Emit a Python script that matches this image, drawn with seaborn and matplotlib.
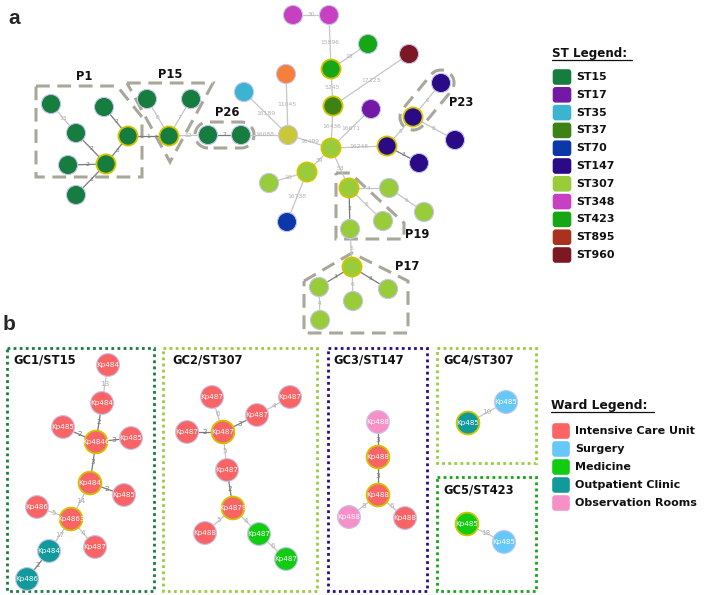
import numpy as np
import pandas as pd
import matplotlib
matplotlib.use("Agg")
import matplotlib.pyplot as plt
from matplotlib.patches import Polygon, FancyBboxPatch, Rectangle, Circle
import seaborn as sns

# ---------------- data: panel a (ST minimum spanning tree) ----------------
a_x = [51, 104, 76, 128, 68, 106, 76, 147, 191, 169, 208, 241, 288, 244, 286,
       293, 329, 331, 368, 333, 409, 331, 371, 387, 413, 441, 455, 419, 307,
       269, 287, 349, 389, 424, 383, 350, 352, 319, 353, 388, 320]
a_y = [104, 107, 133, 136, 165, 164, 195, 99, 99, 136, 135, 135, 135, 92, 74,
       15, 15, 69, 44, 106, 54, 148, 109, 146, 117, 83, 140, 163, 172,
       183, 222, 188, 188, 212, 221, 229, 267, 287, 301, 289, 320]
a_st = ["ST15"] * 12 + ["other_y", "ST35", "other_o", "ST348", "ST348",
        "ST423", "ST423", "ST37", "ST960", "ST307", "ST17", "ST147", "ST147",
        "ST147", "ST147", "ST147", "ST307", "ST307", "ST70"] + ["ST307"] * 10
a_ring = [0, 0, 0, 1, 0, 1, 0, 0, 0, 1, 0, 0, 0, 0, 0, 0, 0, 1, 0, 1, 0, 1,
          0, 1, 1, 0, 0, 0, 1, 0, 0, 1, 0, 0, 0, 0, 1, 0, 0, 0, 0]
a_src = [0, 1, 2, 4, 3, 5, 3, 9, 9, 9, 10, 11, 13, 14, 15, 16, 17, 17, 19, 19,
         22, 12, 21, 23, 23, 24, 24, 21, 28, 28, 21, 31, 32, 31, 31, 35, 36,
         36, 36, 37]
a_dst = [2, 3, 5, 5, 5, 6, 9, 7, 8, 10, 11, 12, 12, 12, 16, 17, 18, 19, 20, 21,
         21, 21, 23, 24, 27, 25, 26, 28, 29, 30, 31, 32, 33, 34, 35, 36, 37,
         38, 39, 40]
a_lab = ["13", "2", "2", "2", "3", "3", "1", "6", "7", "12", "2", "16088",
         "16189", "11045", "30", "15896", "18", "5245", "17223", "16436",
         "16671", "16499", "16248", "5", "3", "6", "8", "39", "10", "16738",
         "53", "4", "6", "5", "2", "5", "3", "6", "3", "4"]

# ---------------- data: panel b (genetic clusters, by ward) ----------------
b_x = [108, 102, 96, 63, 131, 90, 124, 71, 37, 95, 49, 27,
       212, 290, 257, 223, 187, 227, 233, 205, 259, 286,
       378, 378, 378, 349, 405,
       468, 506, 467, 504]
b_y = [365, 403, 442, 427, 438, 483, 495, 519, 507, 547, 551, 579,
       397, 397, 415, 432, 432, 470, 508, 533, 534, 559,
       422, 457, 495, 517, 518,
       423, 402, 524, 542]
b_ward = ["ICU"] * 10 + ["OPC", "OPC"] + ["ICU"] * 8 + ["MED", "MED"] + \
         ["OBS", "ICU", "ICU", "OBS", "ICU"] + ["OPC", "SUR", "MED", "SUR"]
b_ring = [0, 0, 1, 0, 0, 1, 0, 1, 0, 0, 0, 0,
          0, 0, 0, 1, 0, 0, 1, 0, 0, 0,
          0, 1, 1, 0, 0,
          1, 0, 1, 0]
b_name = ["Kp484", "Kp484", "Kp4846", "Kp485", "Kp485", "Kp484", "Kp485",
          "Kp4863", "Kp486", "Kp487", "Kp484", "Kp486",
          "Kp487", "Kp487", "Kp487", "Kp487", "Kp487", "Kp487", "Kp4879",
          "Kp488", "Kp487", "Kp487",
          "Kp488", "Kp488", "Kp488", "Kp488", "Kp488",
          "Kp485", "Kp485", "Kp485", "Kp485"]
b_src = [0, 1, 3, 2, 2, 5, 5, 8, 7, 7, 10,
         12, 14, 15, 16, 15, 17, 18, 18, 20,
         22, 23, 24, 24,
         27, 29]
b_dst = [1, 2, 2, 4, 5, 6, 7, 7, 9, 10, 11,
         15, 13, 14, 15, 17, 18, 19, 20, 21,
         23, 24, 25, 26,
         28, 30]
b_lab = ["13", "2", "2", "3", "3", "2", "14", "5", "4", "17", "2",
         "6", "4", "3", "2", "5", "2", "5", "4", "6",
         "3", "3", "8", "6",
         "10", "18"]

st_names = ["ST15", "ST17", "ST35", "ST37", "ST70", "ST147", "ST307",
            "ST348", "ST423", "ST895", "ST960"]
ward_names = ["Intensive Care Unit", "Surgery", "Medicine",
              "Outpatient Clinic", "Observation Rooms"]
ward_keys = ["ICU", "SUR", "MED", "OPC", "OBS"]
gc_titles = ["GC1/ST15", "GC2/ST307", "GC3/ST147", "GC4/ST307", "GC5/ST423"]

# ---------------- styles ----------------
st_colors = {"ST15": "#167d3f", "ST17": "#7418a6", "ST35": "#3cb3d0",
             "ST37": "#3e8115", "ST70": "#0c37a9", "ST147": "#2b0a86",
             "ST307": "#98cc3b", "ST348": "#c840c2", "ST423": "#16a616",
             "ST895": "#a9321f", "ST960": "#7c1724",
             "other_y": "#c9c83a", "other_o": "#f6803a"}
ward_colors = {"ICU": "#fa6464", "SUR": "#66c8f8", "MED": "#12cc12",
               "OPC": "#129a9a", "OBS": "#f890c8"}
box_colors = ["#167d3f", "#98cc3b", "#2b0a86", "#98cc3b", "#16a616"]
RING = "#d2c400"
SOFT = "#c4c4ec"
HULL = "#a8a79a"

sns.set_theme(style="white")
plt.rcParams["font.family"] = ["DejaVu Sans"]

fig = plt.figure(figsize=(7.08, 5.95), dpi=100)
ax = fig.add_axes([0, 0, 1, 1])
ax.set_xlim(0, 708)
ax.set_ylim(595, 0)
ax.axis("off")


def draw_edges(xs, ys, src, dst, labs, fs):
    for s, d, lab in zip(src, dst, labs):
        near = int(lab) <= 3
        col = "#7a7a7a" if near else "#c6c6c6"
        ax.plot([xs[s], xs[d]], [ys[s], ys[d]], color=col, lw=0.9, zorder=1)
        mx, my = (xs[s] + xs[d]) / 2, (ys[s] + ys[d]) / 2
        ax.text(mx, my, lab, fontsize=fs, color="#777777" if near else "#b0b0b0",
                ha="center", va="center", zorder=2)


def draw_nodes(df, hue, palette, size):
    for ring, sub in df.groupby("ring"):
        sns.scatterplot(data=sub, x="x", y="y", hue=hue, palette=palette,
                        s=size, edgecolor=RING if ring else SOFT,
                        linewidth=1.3 if ring else 0.8, legend=False,
                        ax=ax, zorder=3)


# panel a
draw_edges(a_x, a_y, a_src, a_dst, a_lab, 4.3)
df_a = pd.DataFrame({"x": a_x, "y": a_y, "st": a_st, "ring": a_ring})
draw_nodes(df_a, "st", st_colors, 190)

# panel b
draw_edges(b_x, b_y, b_src, b_dst, b_lab, 5.2)
df_b = pd.DataFrame({"x": b_x, "y": b_y, "ward": b_ward, "ring": b_ring})
draw_nodes(df_b, "ward", ward_colors, 270)
for x, y, name in zip(b_x, b_y, b_name):
    t = ax.text(x, y, name, fontsize=5.1, color="white", ha="center",
                va="center", zorder=4)
    clip = Circle((x, y), 11)
    clip.set_transform(ax.transData)
    t.set_clip_path(clip)


# cluster outlines for panel a
def stadium(p, q, r, n=30):
    p, q = np.array(p, float), np.array(q, float)
    ang = np.arctan2(q[1] - p[1], q[0] - p[0])
    t1 = np.linspace(ang + np.pi / 2, ang + 3 * np.pi / 2, n)
    t2 = np.linspace(ang - np.pi / 2, ang + np.pi / 2, n)
    pts = [p + r * np.array([np.cos(t), np.sin(t)]) for t in t1]
    pts += [q + r * np.array([np.cos(t), np.sin(t)]) for t in t2]
    return np.array(pts)


hulls = {
    "P1": [(36, 86), (117, 86), (142, 117), (142, 177), (36, 177)],
    "P15": [(127, 83), (213, 83), (170, 162)],
    "P19": [(336, 173), (350, 173), (404, 223), (404, 239), (336, 239)],
    "P17": [(304, 281), (352, 253), (408, 281), (408, 333), (304, 333)],
    "P26": stadium((208, 135), (241, 135), 13),
    "P23": stadium((413, 117), (441, 83), 13),
}
for pts in hulls.values():
    ax.add_patch(Polygon(pts, closed=True, fill=False, edgecolor=HULL,
                         lw=2.2, ls=(0, (4.5, 2.5)), zorder=0))

hull_labels = {"P1": (84, 76), "P15": (170, 75), "P26": (227, 113),
               "P23": (461, 103), "P19": (417, 234), "P17": (407, 267)}
for name, (x, y) in hull_labels.items():
    ax.text(x, y, name, fontsize=8.3, fontweight="bold", ha="center",
            va="center", color="#111111", zorder=5)

# panel letters
ax.text(8, 19, "a", fontsize=15, fontweight="bold", family="Liberation Sans",
        ha="left", va="center")
ax.text(3, 324, "b", fontsize=15, fontweight="bold", family="Liberation Sans",
        ha="left", va="center")

# cluster boxes for panel b
boxes = [(7, 348, 154, 591), (163, 348, 317, 591), (328, 348, 427, 591),
         (437, 348, 536, 463), (437, 477, 536, 591)]
title_pos = [(13, 360), (172, 360), (333, 360), (443, 360), (443, 490)]
for (x0, y0, x1, y1), col, title, (tx, ty) in zip(boxes, box_colors,
                                                   gc_titles, title_pos):
    ax.add_patch(Rectangle((x0, y0), x1 - x0, y1 - y0, fill=False,
                           edgecolor=col, lw=2.0, ls=(0, (1, 1.2)), zorder=0))
    ax.text(tx, ty, title, fontsize=8.3, fontweight="bold", ha="left",
            va="center", color="#111111")

# ST legend
ax.text(552, 54, "ST Legend:", fontsize=8.6, fontweight="bold", ha="left",
        va="center", color="#111111")
ax.plot([552, 632], [60, 60], color="#111111", lw=0.9)
for i, st in enumerate(st_names):
    y = 77 + i * 17.8
    ax.add_patch(FancyBboxPatch((554, y - 6.5), 16, 13,
                                boxstyle="round,pad=1.3,rounding_size=3",
                                facecolor=st_colors[st], edgecolor="none"))
    ax.text(576, y, st, fontsize=7.9, fontweight="bold", ha="left",
            va="center", color="#111111")

# ward legend
ax.text(551, 406, "Ward Legend:", fontsize=8.8, fontweight="bold", ha="left",
        va="center", color="#111111")
ax.plot([551, 654], [412, 412], color="#111111", lw=0.9)
for i, (key, name) in enumerate(zip(ward_keys, ward_names)):
    y = 431 + i * 18
    ax.add_patch(FancyBboxPatch((553.5, y - 6.5), 15, 13,
                                boxstyle="round,pad=1.3,rounding_size=3",
                                facecolor=ward_colors[key], edgecolor="none"))
    ax.text(575, y, name, fontsize=8.0, fontweight="bold", ha="left",
            va="center", color="#111111")

fig.savefig("out.png", dpi=100)
